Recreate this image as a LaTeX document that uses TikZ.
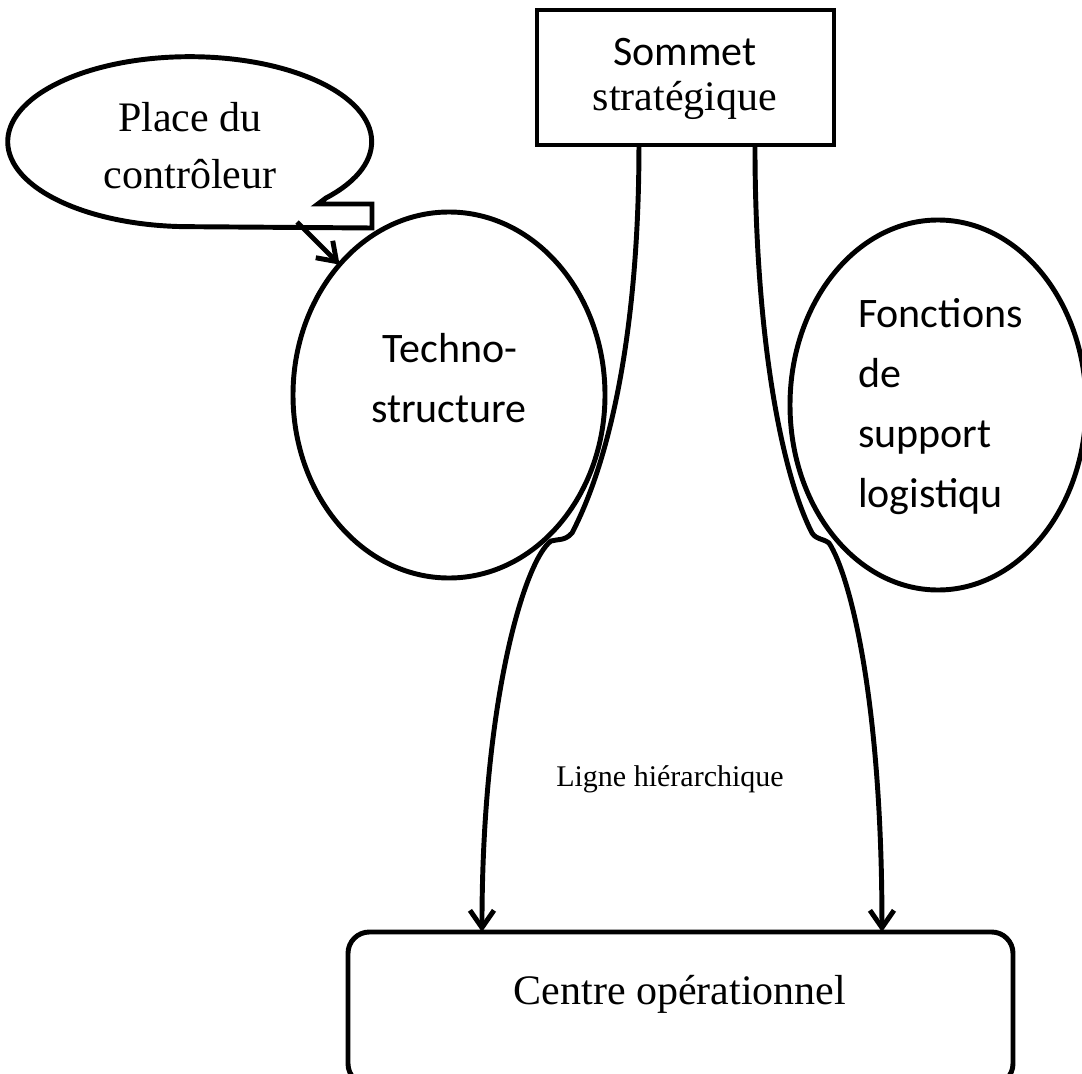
\documentclass[tikz,border=0pt]{standalone}
\usepackage{fontspec}
\setmainfont{Liberation Serif}
\newfontfamily\calibri{Carlito}
\usetikzlibrary{shapes.geometric,arrows.meta}

\begin{document}
\begin{tikzpicture}[x=0.75pt,y=-0.75pt,
  every node/.style={inner sep=0pt,outer sep=0pt},
  outline/.style={draw=black,line width=3.7pt},
  serifbig/.style={font=\fontsize{31.5}{36}\selectfont},
  serifmid/.style={font=\fontsize{22.5}{27}\selectfont},
  sansbig/.style={font=\calibri\fontsize{31.5}{36}\selectfont},
  flow/.style={line width=3.7pt,line join=round,
    -{Straight Barb[length=13pt,width=18pt]}},
]
\useasboundingbox (0,0) rectangle (1082,1074);

% structural blocks
\node[outline,rectangle,minimum width=222.75pt,minimum height=101.25pt]
  (sommet) at (685.5,77.5) {};
\node[outline,ellipse,minimum width=234pt,minimum height=274.5pt]
  (techno) at (449,395) {};
\node[outline,ellipse,minimum width=222pt,minimum height=277.5pt]
  (support) at (938,405) {};
\node[outline,rectangle,rounded corners=16pt,minimum width=498.75pt,minimum height=114.75pt]
  (centre) at (680.5,1008.5) {};

% speech bubble for the controller
\coordinate (callout) at (190,142);
\draw[outline,line join=miter] (326,198)
  arc[start angle=-41.5,end angle=270,x radius=136.5pt,y radius=63.75pt]
  -- (372,228) -- (372,204) -- (318,204) -- cycle;
\coordinate (pointer) at (297,222);

% labels
\node[serifbig,anchor=base] (placeA) at (190,132) {Place du};
\node[serifbig,anchor=base] (placeB) at (190,188) {contrôleur};
\node[sansbig,anchor=base] (sommetA) at (685,65) {Sommet};
\node[serifbig,anchor=base] (sommetB) at (685,110) {stratégique};
\node[sansbig,anchor=base] (technoA) at (450,362) {Techno-};
\node[sansbig,anchor=base] (technoB) at (449,422) {structure};
\node[sansbig,anchor=base west] (suppA) at (858,327) {Fonctions};
\node[sansbig,anchor=base west] (suppB) at (858,387) {de};
\node[sansbig,anchor=base west] (suppC) at (858,447) {support};
\node[sansbig,anchor=base west] (suppD) at (858,507) {logistiqu};
\node[serifmid,anchor=base] (ligne) at (670,786) {Ligne hiérarchique};
\node[serifbig,anchor=base] (centreT) at (680,1004) {Centre opérationnel};

% connectors
\draw[flow] (pointer) -- (techno.130);
\draw[flow] ([xshift=-34.9pt]sommet.south)
  .. controls (639,330) and (610,460) .. (572,533)
  .. controls (565,541) and (558,539) .. (551,541)
  .. controls (525,560) and (482,700) .. ([xshift=-148.9pt]centre.north);
\draw[flow] ([xshift=52.1pt]sommet.south)
  .. controls (755,330) and (780,470) .. (812,533)
  .. controls (817,540) and (822,538) .. (829,543)
  .. controls (850,575) and (882,700) .. ([xshift=151.1pt]centre.north);
\end{tikzpicture}
\end{document}
